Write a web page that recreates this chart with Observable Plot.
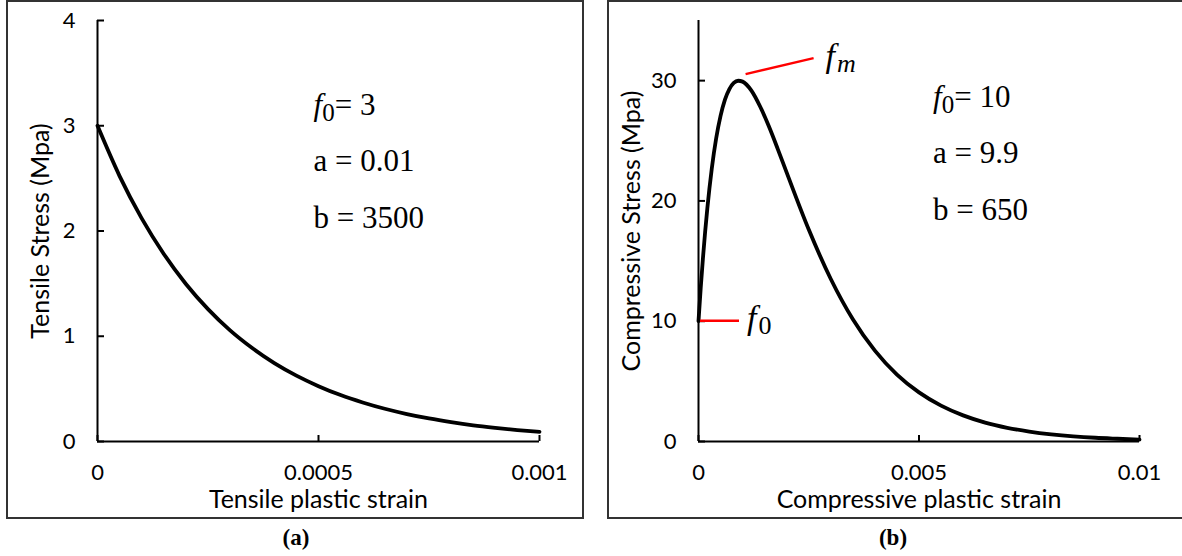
<!DOCTYPE html>
<html>
<head>
<meta charset="utf-8">
<script src="https://cdn.jsdelivr.net/npm/d3@7"></script>
<script src="https://cdn.jsdelivr.net/npm/@observablehq/plot@0.6"></script>
<style>
  body { margin: 0; background: #fff; }
  #wrap { position: relative; width: 1182px; height: 556px; overflow: hidden; background: #fff; }
  .plot { position: absolute; top: 0; }
  .frame { position: absolute; box-sizing: border-box; border: 2px solid #333; pointer-events: none; }
  .cap { position: absolute; top: 526px; transform: translateX(-50%); font-family: "Liberation Serif", "Times New Roman", serif; font-weight: bold; font-size: 23px; line-height: 1; }
</style>
</head>
<body>
<div id="wrap">
  <div class="frame" style="left:6px; top:0; width:578px; height:519px;"></div>
  <div class="frame" style="left:607px; top:0; width:580px; height:519px;"></div>
  <div class="cap" style="left:296px;">(a)</div>
  <div class="cap" style="left:893px;">(b)</div>
</div>
<script>
// (a) tensile softening curve
const tensileStrain = [0, 0.00005, 0.0001, 0.00015, 0.0002, 0.00025, 0.0003, 0.00035, 0.0004, 0.00045, 0.0005,
  0.00055, 0.0006, 0.00065, 0.0007, 0.00075, 0.0008, 0.00085, 0.0009, 0.00095, 0.001];
const tensileStress = [3.000, 2.522, 2.120, 1.782, 1.497, 1.258, 1.056, 0.888, 0.745, 0.626, 0.526,
  0.441, 0.371, 0.311, 0.261, 0.219, 0.184, 0.154, 0.130, 0.109, 0.091];
const tensileXTicks = [0, 0.0005, 0.001];
const tensileYTicks = [0, 1, 2, 3, 4];
const tensileParams = ["3", "0.01", "3500"];   // f0, a, b

// (b) compressive hardening / softening curve
const compStrain = [0, 0.00005, 0.0001, 0.00015, 0.0002, 0.0003, 0.0004, 0.0005, 0.0006, 0.0007, 0.0008, 0.0009,
  0.001, 0.0012, 0.0014, 0.0016, 0.0018, 0.002, 0.0025, 0.003, 0.0035, 0.004, 0.0045, 0.005, 0.0055,
  0.006, 0.0065, 0.007, 0.0075, 0.008, 0.0085, 0.009, 0.0095, 0.01];
const compStress = [10, 12.75, 15.21, 17.41, 19.37, 22.66, 25.19, 27.07, 28.42, 29.30, 29.81, 29.99,
  29.92, 29.17, 27.83, 26.16, 24.29, 22.35, 17.62, 13.51, 10.16, 7.55, 5.56, 4.08, 2.98,
  2.17, 1.57, 1.14, 0.83, 0.60, 0.43, 0.31, 0.23, 0.16];
const compXTicks = [0, 0.005, 0.01];
const compYTicks = [0, 10, 20, 30];
const compParams = ["10", "9.9", "650"];       // f0, a, b
const compF0 = 10;
const compPeak = { strain: 0.00092, stress: 30 };

const SANS = "Lato, 'Open Sans', sans-serif";
const SERIF = "'Liberation Serif', 'Times New Roman', serif";
const H = 520, MT = 20, MB = 79;

function drawPanel(o) {
  const rows = o.strain.map((s, i) => ({ strain: s, stress: o.stress[i] }));
  const fw = o.width - o.ml - o.mr, fh = H - MT - MB;
  const chart = Plot.plot({
    width: o.width, height: H,
    marginLeft: o.ml, marginRight: o.mr, marginTop: MT, marginBottom: MB,
    style: { background: "transparent", fontFamily: SANS, fontSize: "22px", color: "#000", overflow: "visible" },
    x: { domain: [0, o.xMax], axis: null },
    y: { domain: [0, o.yMax], axis: null },
    marks: [
      Plot.ruleX([0], { stroke: "#000", strokeWidth: 2 }),
      Plot.ruleY([0], { stroke: "#000", strokeWidth: 2 }),
      // inward tick marks
      Plot.tickY(o.yTicks, { y: d => d, insetRight: fw - 7, stroke: "#000", strokeWidth: 2 }),
      Plot.tickX(o.xTicks, { x: d => d, insetTop: fh - 6, stroke: "#000", strokeWidth: 2 }),
      Plot.axisY({ ticks: o.yTicks, tickSize: 0, tickPadding: 22, tickFormat: String, label: null, fontSize: 22 }),
      Plot.axisX({ ticks: o.xTicks, tickSize: 0, tickPadding: 23, tickFormat: String, label: null, fontSize: 22 }),
      Plot.text([o.xLabel], { frameAnchor: "bottom", dy: 66, lineAnchor: "bottom", textAnchor: "middle", fontSize: 25 }),
      Plot.text([o.yLabel], { frameAnchor: "left", dx: o.yTitleDx, rotate: -90, lineAnchor: "middle", textAnchor: "middle", fontSize: 25 }),
      Plot.line(rows, { x: "strain", y: "stress", stroke: "#000", strokeWidth: 3.8, curve: "monotone-x" })
    ]
  });
  chart.classList.add("plot");
  chart.style.left = o.left + "px";
  document.getElementById("wrap").prepend(chart);
  return chart;
}

// Parameter block: "f0= v", "a = v", "b = v"
function paramBlock(chart, params, px, py) {
  const g = d3.select(chart).append("g")
    .attr("font-family", SERIF).attr("font-size", 31).attr("fill", "#000")
    .attr("text-anchor", "start");
  const t0 = g.append("text").attr("x", px).attr("y", py);
  t0.append("tspan").attr("font-style", "italic").text("f");
  t0.append("tspan").attr("font-size", 25).attr("dy", 6).text("0");
  t0.append("tspan").attr("dy", -6).text("= " + params[0]);
  g.append("text").attr("x", px).attr("y", py + 56).text("a = " + params[1]);
  g.append("text").attr("x", px).attr("y", py + 113).text("b = " + params[2]);
}

const chartA = drawPanel({
  strain: tensileStrain, stress: tensileStress, xTicks: tensileXTicks, yTicks: tensileYTicks,
  xMax: 0.001, yMax: 4, left: 0, width: 595, ml: 97, mr: 56, yTitleDx: -57,
  xLabel: "Tensile plastic strain", yLabel: "Tensile Stress (Mpa)"
});
const chartB = drawPanel({
  strain: compStrain, stress: compStress, xTicks: compXTicks, yTicks: compYTicks,
  xMax: 0.01, yMax: 35, left: 600, width: 582, ml: 98, mr: 43, yTitleDx: -67,
  xLabel: "Compressive plastic strain", yLabel: "Compressive Stress (Mpa)"
});

{
  const x = chartA.scale("x"), y = chartA.scale("y");
  paramBlock(chartA, tensileParams, x.apply(0.00049), y.apply(3.1));
}
{
  const x = chartB.scale("x"), y = chartB.scale("y");
  paramBlock(chartB, compParams, x.apply(0.00533), y.apply(27.75));

  const svg = d3.select(chartB);
  // f_m leader and label at the peak
  const px = x.apply(compPeak.strain), py = y.apply(compPeak.stress);
  svg.append("line").attr("x1", px + 7).attr("y1", py - 6).attr("x2", px + 75).attr("y2", py - 22)
    .attr("stroke", "#ff0000").attr("stroke-width", 2.5);
  const fm = svg.append("text").attr("x", px + 87).attr("y", py - 13).attr("text-anchor", "start")
    .attr("font-family", SERIF).attr("font-size", 34).attr("font-style", "italic");
  fm.append("tspan").text("f");
  fm.append("tspan").attr("font-size", 26).attr("dy", 5).attr("dx", 2).text("m");

  // f_0 leader and label at the initial stress
  const ox = x.apply(0), oy = y.apply(compF0);
  svg.append("line").attr("x1", ox + 2).attr("y1", oy).attr("x2", ox + 41).attr("y2", oy)
    .attr("stroke", "#ff0000").attr("stroke-width", 2.5);
  const f0 = svg.append("text").attr("x", ox + 49).attr("y", oy + 8).attr("text-anchor", "start")
    .attr("font-family", SERIF).attr("font-size", 34);
  f0.append("tspan").attr("font-style", "italic").text("f");
  f0.append("tspan").attr("font-size", 26).attr("dy", 5).attr("dx", 2).text("0");
}
</script>
</body>
</html>
